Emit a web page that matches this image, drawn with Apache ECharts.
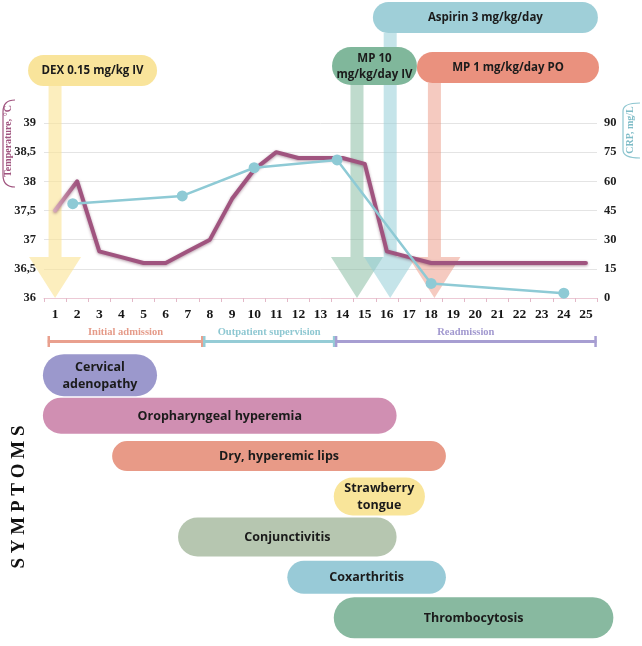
<!DOCTYPE html>
<html><head><meta charset="utf-8">
<script src="https://cdn.jsdelivr.net/npm/echarts@6/dist/echarts.min.js"></script>
<style>html,body{margin:0;padding:0;background:#fff}#c{width:642px;height:646px}</style>
</head><body><div id="c"></div>
<script>
// ---------- DATA ----------
const days = ['1','2','3','4','5','6','7','8','9','10','11','12','13','14','15','16','17','18','19','20','21','22','23','24','25'];
const temperature = [37.5,38.0,36.8,36.7,36.6,36.6,36.8,37.0,37.7,38.2,38.5,38.4,38.4,38.4,38.3,36.8,36.7,36.6,36.6,36.6,36.6,36.6,36.6,36.6,36.6];
const crpDays = [1.8, 6.75, 10, 13.75, 18, 24];
const crpValues = [48.5, 52.5, 67, 71, 7.5, 2.5];
const tempMin = 36, tempMax = 39, tempStep = 0.5;
const crpMin = 0, crpMax = 90, crpStep = 15;

const treatments = ['DEX 0.15 mg/kg IV', 'MP 10\nmg/kg/day IV', 'Aspirin 3 mg/kg/day', 'MP 1 mg/kg/day PO'];
const treatmentDay = [1, 14.65, 16.15, 18.15];
const treatmentBoxStart = [-0.22, 13.52, 15.37, 17.36];
const treatmentBoxEnd = [5.61, 17.36, 25.54, 25.59];

const phases = ['Initial admission', 'Outpatient supervision', 'Readmission'];
const phaseStart = [0.67, 7.7, 13.66];
const phaseEnd = [7.7, 13.66, 25.48];

const symptoms = ['Cervical\nadenopathy', 'Oropharyngeal hyperemia', 'Dry, hyperemic lips', 'Strawberry\ntongue', 'Conjunctivitis', 'Coxarthritis', 'Thrombocytosis'];
const symptomStart = [0.45, 0.45, 3.58, 13.6, 6.56, 11.5, 13.6];
const symptomEnd = [5.61, 16.44, 18.67, 17.72, 16.44, 18.67, 26.24];

// ---------- STYLES / LAYOUT ----------
const treatmentColor = ['#f9e49b', '#80b79b', '#9fcfd8', '#ea917e'];
const arrowColor = ['rgba(250,228,150,0.62)', 'rgba(128,183,155,0.5)', 'rgba(150,205,215,0.55)', 'rgba(236,150,130,0.5)'];
const pillTop = [55, 47, 2, 52];
const pillBottom = [86, 85, 33, 83];
const arrowTop = [86, 85, 33, 83];
const phaseColor = ['#e9a08e', '#95ccd6', '#a79ed2'];
const phaseTextColor = ['#e59b89', '#8fc8d2', '#a198cf'];
const symptomColor = ['#9b98cc', '#d08fb2', '#e89a87', '#f9e59a', '#b6c6b0', '#98cad7', '#88b9a0'];
const symptomHeight = [42, 36, 30, 38, 39, 33, 41];

const SERIF = '"Liberation Serif", "DejaVu Serif", serif';
const SANS = '"Open Sans", "Noto Sans", sans-serif';

const chart = echarts.init(document.getElementById('c'));

function pill(x0, x1, y0, y1, fill, text, fs, lh) {
  const h = y1 - y0;
  return {
    type: 'group', children: [
      { type: 'rect', shape: { x: x0, y: y0, width: x1 - x0, height: h, r: h / 2 }, style: { fill: fill } },
      { type: 'text', x: (x0 + x1) / 2, y: (y0 + y1) / 2 + 0.5,
        style: { text: text, fill: '#1b1b1b', fontSize: fs, fontWeight: 'bold', fontFamily: SANS,
                 align: 'center', verticalAlign: 'middle', lineHeight: lh } }
    ]
  };
}

function bracket(points, color) {
  const [a, c1, b, d, c2, e] = points;
  const st = { fill: 'none', stroke: color, lineWidth: 1.2 };
  return [
    { type: 'bezierCurve', shape: { x1: a[0], y1: a[1], cpx1: c1[0], cpy1: c1[1], x2: b[0], y2: b[1] }, style: st },
    { type: 'line', shape: { x1: b[0], y1: b[1], x2: d[0], y2: d[1] }, style: st },
    { type: 'bezierCurve', shape: { x1: d[0], y1: d[1], cpx1: c2[0], cpy1: c2[1], x2: e[0], y2: e[1] }, style: st }
  ];
}

const option = {
  animation: false,
  backgroundColor: '#fff',
  grid: [
    { left: 44, top: 123, width: 553, height: 175 },
    { left: 44, top: 326, width: 553, height: 22 },
    { left: 44, top: 355, width: 553, height: 283 }
  ],
  xAxis: [
    { type: 'category', gridIndex: 0, data: days, boundaryGap: true,
      axisLine: { lineStyle: { color: '#ecc9d5', width: 1 } },
      axisTick: { show: true, length: 4, lineStyle: { color: '#e3b9c8' } },
      axisLabel: { color: '#161616', fontFamily: SERIF, fontWeight: 'bold', fontSize: 13.5, margin: 10 } },
    { type: 'value', gridIndex: 0, min: 0.5, max: 25.5, show: false },
    { type: 'value', gridIndex: 1, min: 0.5, max: 25.5, show: false },
    { type: 'value', gridIndex: 2, min: 0.5, max: 25.5, show: false }
  ],
  yAxis: [
    { type: 'value', gridIndex: 0, min: tempMin, max: tempMax, interval: tempStep,
      axisLine: { show: false }, axisTick: { show: false },
      splitLine: { lineStyle: { color: '#e4e4e4', width: 1 } },
      axisLabel: { color: '#1e1e1e', fontFamily: SERIF, fontWeight: 'bold', fontSize: 12.5, margin: 8,
                   formatter: v => String(v).replace('.', ',') } },
    { type: 'value', gridIndex: 0, min: crpMin, max: crpMax, interval: crpStep, position: 'right',
      axisLine: { show: false }, axisTick: { show: false }, splitLine: { show: false },
      axisLabel: { color: '#1e1e1e', fontFamily: SERIF, fontWeight: 'bold', fontSize: 12.5, margin: 7 } },
    { type: 'value', gridIndex: 1, min: 0, max: 1, show: false },
    { type: 'category', gridIndex: 2, data: symptoms, inverse: true, show: false }
  ],
  series: [
    { // treatment arrows
      type: 'custom', xAxisIndex: 1, yAxisIndex: 0, z: 2, clip: false, silent: true,
      encode: { x: 0, y: 1 },
      data: treatmentDay.map(d => [d, tempMin]),
      renderItem: (params, api) => {
        const i = params.dataIndex;
        const tip = api.coord([api.value(0), api.value(1)]);
        const cx = tip[0], ty = tip[1];
        const base = ty - 41, top = arrowTop[i], sw = 6.5, hw = 26;
        return { type: 'polygon', shape: { points: [
          [cx - sw, top], [cx + sw, top], [cx + sw, base], [cx + hw, base], [cx, ty], [cx - hw, base], [cx - sw, base]
        ] }, style: { fill: arrowColor[i] } };
      }
    },
    { // treatment labels
      type: 'custom', xAxisIndex: 1, yAxisIndex: 0, z: 7, clip: false, silent: true,
      encode: { x: [0, 1] },
      data: treatments.map((t, i) => [treatmentBoxStart[i], treatmentBoxEnd[i]]),
      renderItem: (params, api) => {
        const i = params.dataIndex;
        const x0 = api.coord([api.value(0), tempMin])[0];
        const x1 = api.coord([api.value(1), tempMin])[0];
        return pill(x0, x1, pillTop[i], pillBottom[i], treatmentColor[i], treatments[i], 11.5, 15.5);
      }
    },
    { name: 'Temperature, °C', type: 'line', xAxisIndex: 0, yAxisIndex: 0, z: 5,
      data: temperature, symbol: 'none', smooth: false,
      lineStyle: { width: 4, color: { type: 'linear', x: 0, y: 0, x2: 1, y2: 0, colorStops: [
        { offset: 0, color: '#d9aebd' }, { offset: 0.045, color: '#a0547f' }, { offset: 1, color: '#a0547f' }] },
        shadowColor: 'rgba(90,30,60,0.45)', shadowBlur: 3, shadowOffsetY: 1, cap: 'round', join: 'round' } },
    { name: 'CRP, mg/L', type: 'line', xAxisIndex: 1, yAxisIndex: 1, z: 6,
      data: crpDays.map((d, i) => [d, crpValues[i]]),
      symbol: 'circle', symbolSize: 11,
      itemStyle: { color: '#8ecad5' },
      lineStyle: { width: 2.5, color: '#8ecad5' } },
    { // phases
      type: 'custom', xAxisIndex: 2, yAxisIndex: 2, z: 3, clip: false, silent: true,
      encode: { x: [0, 1] },
      data: phases.map((p, i) => [phaseStart[i], phaseEnd[i]]),
      renderItem: (params, api) => {
        const i = params.dataIndex;
        const cs = params.coordSys;
        const x0 = api.coord([api.value(0), 0])[0];
        const x1 = api.coord([api.value(1), 0])[0];
        const y = cs.y + 15.5;
        const col = phaseColor[i];
        return { type: 'group', children: [
          { type: 'line', shape: { x1: x0, y1: y, x2: x1, y2: y }, style: { stroke: col, lineWidth: 3 } },
          { type: 'line', shape: { x1: x0 + 1, y1: y - 5.5, x2: x0 + 1, y2: y + 5.5 }, style: { stroke: col, lineWidth: 2.5 } },
          { type: 'line', shape: { x1: x1 - 1, y1: y - 5.5, x2: x1 - 1, y2: y + 5.5 }, style: { stroke: col, lineWidth: 2.5 } },
          { type: 'text', x: (x0 + x1) / 2, y: y - 9.5, style: { text: phases[i], fill: phaseTextColor[i],
              fontFamily: SERIF, fontWeight: 'bold', fontSize: 10.5, align: 'center', verticalAlign: 'middle' } }
        ] };
      }
    },
    { // symptoms
      type: 'custom', xAxisIndex: 3, yAxisIndex: 3, z: 3, clip: false, silent: true,
      encode: { x: [0, 1], y: 2 },
      data: symptoms.map((s, i) => [symptomStart[i], symptomEnd[i], i]),
      renderItem: (params, api) => {
        const i = params.dataIndex;
        const p0 = api.coord([api.value(0), api.value(2)]);
        const p1 = api.coord([api.value(1), api.value(2)]);
        const h = symptomHeight[i];
        const multi = symptoms[i].indexOf('\n') >= 0;
        return pill(p0[0], p1[0], p0[1] - h / 2, p0[1] + h / 2, symptomColor[i], symptoms[i], 12.5, multi ? 17 : 18);
      }
    }
  ],
  graphic: [].concat(
    bracket([[15,100],[3,100],[3,112],[3,175],[3,187],[15,187]], '#a0547f'),
    bracket([[640,103],[623,103],[623,111],[623,150],[623,158],[640,158]], '#8ec6d0'),
    [
    { type: 'text', x: 8.5, y: 141, rotation: Math.PI / 2,
      style: { text: 'Temperature, °C', fill: '#a0547f', fontFamily: SERIF, fontWeight: 'bold', fontSize: 10,
               align: 'center', verticalAlign: 'middle' } },
    { type: 'text', x: 630.5, y: 130, rotation: Math.PI / 2,
      style: { text: 'CRP, mg/L', fill: '#7fbcc7', fontFamily: SERIF, fontWeight: 'bold', fontSize: 10,
               align: 'center', verticalAlign: 'middle' } },
    { type: 'text', x: 19, y: 497, rotation: Math.PI / 2,
      style: { text: 'S Y M P T O M S', fill: '#111', fontFamily: SERIF, fontWeight: 'bold', fontSize: 19,
               align: 'center', verticalAlign: 'middle' } }
    ])
};
chart.setOption(option);
</script>
</body></html>
